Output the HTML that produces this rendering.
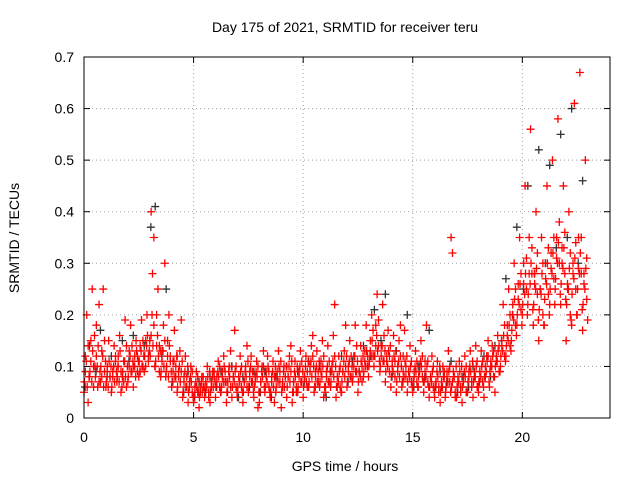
<!DOCTYPE html>
<html><head><meta charset="utf-8"><style>
body{margin:0;background:#fff}
svg{display:block;font-family:"Liberation Sans",sans-serif}
</style></head><body>
<svg id="chart" width="640" height="480">
<text x="345" y="32" font-size="14" text-anchor="middle">Day 175 of 2021, SRMTID for receiver teru</text>
<text x="345" y="471" font-size="14" text-anchor="middle">GPS time / hours</text>
<text transform="translate(19,238) rotate(-90)" font-size="14" text-anchor="middle">SRMTID / TECUs</text>
<g id="grid"></g>
<g id="ticks"></g>
<g id="black"></g>
<g id="red"></g>
<rect x="84" y="57" width="526" height="361" fill="none" stroke="#000" stroke-width="1"/>
</svg>
<script>
const xTicks=[0,5,10,15,20];
const yTicks=[0,0.1,0.2,0.3,0.4,0.5,0.6,0.7];
const yTickLabels=["0","0.1","0.2","0.3","0.4","0.5","0.6","0.7"];
const slotStart=0, slotStep=0.25;
const redV=[
[.05,.12,.20,.03],[.08,.15,.25,.06],[.10,.18,.06,.22],[.07,.13,.25,.09],
[.06,.10,.15,.08],[.05,.09,.14,.11],[.07,.12,.16,.05],[.08,.11,.19,.06],
[.07,.13,.18,.09],[.06,.10,.15,.12],[.08,.14,.19,.10],[.09,.15,.20,.12],
[.15,.40,.28,.35],[.10,.20,.25,.14],[.08,.13,.18,.30],[.09,.15,.20,.12],
[.06,.11,.17,.08],[.05,.09,.13,.19],[.04,.08,.12,.06],[.03,.07,.10,.05],
[.03,.06,.09,.05],[.02,.05,.08,.06],[.04,.07,.10,.05],[.03,.06,.09,.08],
[.04,.08,.11,.06],[.05,.09,.12,.07],[.03,.07,.10,.13],[.04,.08,.17,.06],
[.04,.08,.12,.06],[.03,.07,.10,.14],[.05,.09,.12,.07],[.04,.08,.11,.02],
[.03,.07,.10,.13],[.05,.09,.12,.06],[.04,.08,.11,.03],[.05,.09,.13,.07],
[.02,.06,.10,.08],[.04,.08,.12,.14],[.03,.07,.11,.05],[.05,.09,.13,.07],
[.04,.08,.12,.06],[.06,.10,.14,.16],[.05,.09,.13,.07],[.06,.11,.15,.04],
[.05,.09,.14,.07],[.06,.10,.16,.22],[.04,.08,.12,.06],[.05,.09,.13,.18],
[.06,.10,.15,.08],[.07,.12,.18,.09],[.05,.09,.14,.07],[.08,.13,.18,.10],
[.10,.15,.20,.12],[.12,.18,.24,.14],[.09,.14,.22,.11],[.07,.12,.17,.09],
[.06,.11,.16,.08],[.05,.10,.15,.18],[.06,.12,.17,.08],[.05,.09,.14,.07],
[.05,.09,.13,.07],[.06,.10,.15,.08],[.05,.11,.18,.07],[.04,.08,.12,.06],
[.04,.07,.11,.06],[.03,.06,.10,.08],[.05,.09,.13,.07],[.35,.32,.08,.04],
[.04,.07,.11,.06],[.03,.08,.12,.05],[.05,.09,.13,.07],[.04,.08,.14,.06],
[.05,.09,.13,.07],[.04,.08,.12,.15],[.06,.10,.14,.08],[.05,.11,.16,.09],
[.10,.15,.22,.12],[.12,.18,.25,.14],[.15,.22,.30,.18],[.18,.26,.35,.21],
[.20,.30,.45,.25],[.22,.35,.56,.28],[.18,.28,.40,.24],[.15,.25,.35,.20],
[.18,.30,.45,.24],[.22,.32,.50,.27],[.25,.35,.58,.30],[.22,.33,.45,.28],
[.15,.25,.40,.20],[.18,.30,.61,.25],[.20,.35,.67,.28],[.17,.28,.50,.23]];
const redCore=[
[.07,.09,.11,.06,.14,.08],[.09,.11,.07,.13,.10,.16],[.08,.12,.10,.14,.07,.09],[.10,.08,.12,.06,.15,.11],
[.07,.09,.06,.11,.08,.10],[.06,.08,.10,.07,.12,.09],[.08,.10,.07,.13,.09,.06],[.09,.07,.11,.08,.14,.10],
[.08,.10,.12,.09,.14,.11],[.10,.12,.08,.13,.09,.11],[.11,.09,.13,.10,.15,.12],[.12,.10,.14,.16,.11,.13],
[.12,.16,.20,.14,.18,.10],[.11,.14,.16,.12,.09,.13],[.09,.11,.13,.10,.15,.08],[.10,.12,.08,.14,.11,.09],
[.07,.09,.11,.08,.10,.12],[.06,.08,.10,.07,.09,.11],[.05,.07,.09,.06,.08,.10],[.05,.06,.08,.07,.09,.04],
[.04,.05,.07,.06,.08,.05],[.04,.06,.07,.05,.08,.06],[.05,.07,.06,.08,.04,.09],[.05,.07,.08,.06,.09,.07],
[.06,.07,.09,.08,.10,.05],[.06,.08,.07,.10,.09,.07],[.05,.07,.09,.08,.06,.10],[.06,.08,.07,.09,.10,.05],
[.06,.08,.07,.09,.10,.05],[.05,.07,.09,.08,.06,.11],[.06,.08,.10,.07,.09,.05],[.06,.07,.09,.08,.10,.05],
[.05,.07,.09,.08,.10,.06],[.06,.08,.07,.10,.09,.05],[.05,.07,.09,.06,.08,.10],[.06,.08,.07,.10,.09,.11],
[.05,.07,.09,.06,.08,.10],[.06,.08,.10,.07,.09,.11],[.05,.07,.09,.08,.06,.10],[.06,.08,.10,.07,.11,.09],
[.06,.08,.10,.07,.09,.11],[.07,.09,.11,.08,.12,.10],[.06,.08,.10,.07,.09,.11],[.07,.09,.08,.10,.12,.06],
[.06,.08,.10,.07,.11,.09],[.07,.09,.11,.08,.12,.10],[.06,.08,.07,.09,.10,.05],[.07,.09,.11,.08,.10,.12],
[.07,.09,.11,.08,.12,.10],[.08,.10,.12,.09,.14,.11],[.07,.09,.08,.11,.10,.12],[.09,.11,.10,.13,.12,.08],
[.11,.13,.12,.15,.17,.10],[.12,.14,.16,.13,.19,.11],[.10,.12,.14,.11,.16,.13],[.09,.11,.10,.13,.12,.14],
[.08,.10,.09,.12,.11,.13],[.07,.09,.11,.08,.12,.10],[.07,.09,.08,.11,.10,.12],[.07,.09,.08,.10,.11,.06],
[.07,.08,.10,.09,.11,.06],[.08,.09,.11,.10,.12,.07],[.07,.09,.08,.10,.11,.06],[.06,.08,.07,.09,.10,.05],
[.06,.07,.09,.08,.05,.10],[.05,.07,.06,.08,.09,.04],[.06,.08,.07,.09,.10,.05],[.06,.07,.09,.08,.05,.10],
[.06,.08,.07,.09,.05,.10],[.06,.07,.09,.08,.10,.05],[.07,.08,.10,.09,.06,.11],[.07,.09,.08,.10,.11,.06],
[.07,.09,.08,.10,.11,.06],[.08,.10,.09,.11,.12,.07],[.09,.11,.10,.12,.13,.08],[.10,.12,.11,.13,.14,.09],
[.12,.14,.13,.16,.18,.11],[.14,.16,.15,.18,.20,.13],[.17,.20,.19,.23,.25,.16],[.20,.23,.22,.26,.28,.18],
[.22,.26,.24,.28,.31,.20],[.24,.28,.26,.30,.33,.21],[.22,.26,.25,.29,.32,.19],[.21,.25,.24,.28,.30,.18],
[.23,.27,.26,.30,.33,.20],[.25,.29,.28,.32,.35,.22],[.27,.31,.30,.34,.38,.24],[.26,.30,.29,.33,.36,.23],
[.22,.26,.25,.29,.32,.19],[.24,.28,.27,.31,.34,.20],[.25,.29,.28,.32,.35,.21],[.22,.26,.25,.29,.31,.19]];
const blackStep=0.5;
const blackV=[
[.06,.14],[.09,.17],[.08,.12],[.10,.15],[.11,.16],[.09,.14],[.37,.41],[.12,.25],
[.07,.12],[.05,.09],[.04,.07],[.05,.08],[.06,.09],[.05,.10],[.04,.08],[.06,.09],
[.05,.09],[.04,.08],[.06,.10],[.05,.09],[.07,.11],[.06,.10],[.04,.09],[.06,.12],
[.07,.11],[.09,.14],[.12,.21],[.15,.24],[.08,.13],[.07,.20],[.06,.10],[.08,.17],
[.06,.09],[.07,.11],[.05,.08],[.06,.10],[.07,.12],[.08,.14],[.15,.27],[.20,.37],
[.25,.45],[.28,.52],[.30,.49],[.33,.55],[.35,.60],[.30,.46]];
const X0=84,X1=610,Y0=418,Y1=57;
const xs=t=>X0+(t/24)*(X1-X0);
const ys=v=>Y0-(v/0.7)*(Y0-Y1);
const NS="http://www.w3.org/2000/svg";
function mk(tag,attrs,parent){const e=document.createElementNS(NS,tag);for(const k in attrs)e.setAttribute(k,attrs[k]);parent.appendChild(e);return e;}
const grid=document.getElementById('grid'),ticks=document.getElementById('ticks');
xTicks.forEach((t,i)=>{
  const x=xs(t);
  if(t>0){const l=mk('line',{x1:x,x2:x,y1:Y1,y2:Y0,stroke:'#a0a0a0','stroke-dasharray':'1,3'},grid);
  
  }
  mk('line',{x1:x,x2:x,y1:Y0,y2:Y0-6,stroke:'#000'},ticks);
  mk('line',{x1:x,x2:x,y1:Y1,y2:Y1+6,stroke:'#000'},ticks);
  const tx=mk('text',{x:x,y:Y0+24,'font-size':14,'text-anchor':'middle'},ticks);
  tx.textContent=t;
  
  
});
yTicks.forEach((v,i)=>{
  const y=ys(v);
  if(v>0&&v<0.7){const l=mk('line',{x1:X0,x2:X1,y1:y,y2:y,stroke:'#a0a0a0','stroke-dasharray':'1,3'},grid);
  
  }
  mk('line',{x1:X0,x2:X0+6,y1:y,y2:y,stroke:'#000'},ticks);
  mk('line',{x1:X1,x2:X1-6,y1:y,y2:y,stroke:'#000'},ticks);
  const tx=mk('text',{x:X0-10,y:y+5,'font-size':14,'text-anchor':'end'},ticks);
  tx.textContent=yTickLabels[i];
  
  
});
function plus(g,t,v,color){
  const x=xs(t),y=ys(v);
  const p=mk('path',{d:`M${x-4},${y}H${x+4}M${x},${y-4}V${y+4}`,stroke:color,'stroke-width':1.3,fill:'none'},g);
  
  
}
const gb=document.getElementById('black');
blackV.forEach((arr,i)=>arr.forEach((v,k)=>plus(gb,slotStart+i*blackStep+k*0.2+0.05,v,'#333')));
const gr=document.getElementById('red');
redV.forEach((arr,i)=>arr.forEach((v,k)=>plus(gr,slotStart+i*slotStep+k*0.0625,v,'#f00')));
redCore.forEach((arr,i)=>arr.forEach((v,k)=>plus(gr,slotStart+i*slotStep+k*0.042+0.02,v,'#f00')));
</script>
</body></html>
